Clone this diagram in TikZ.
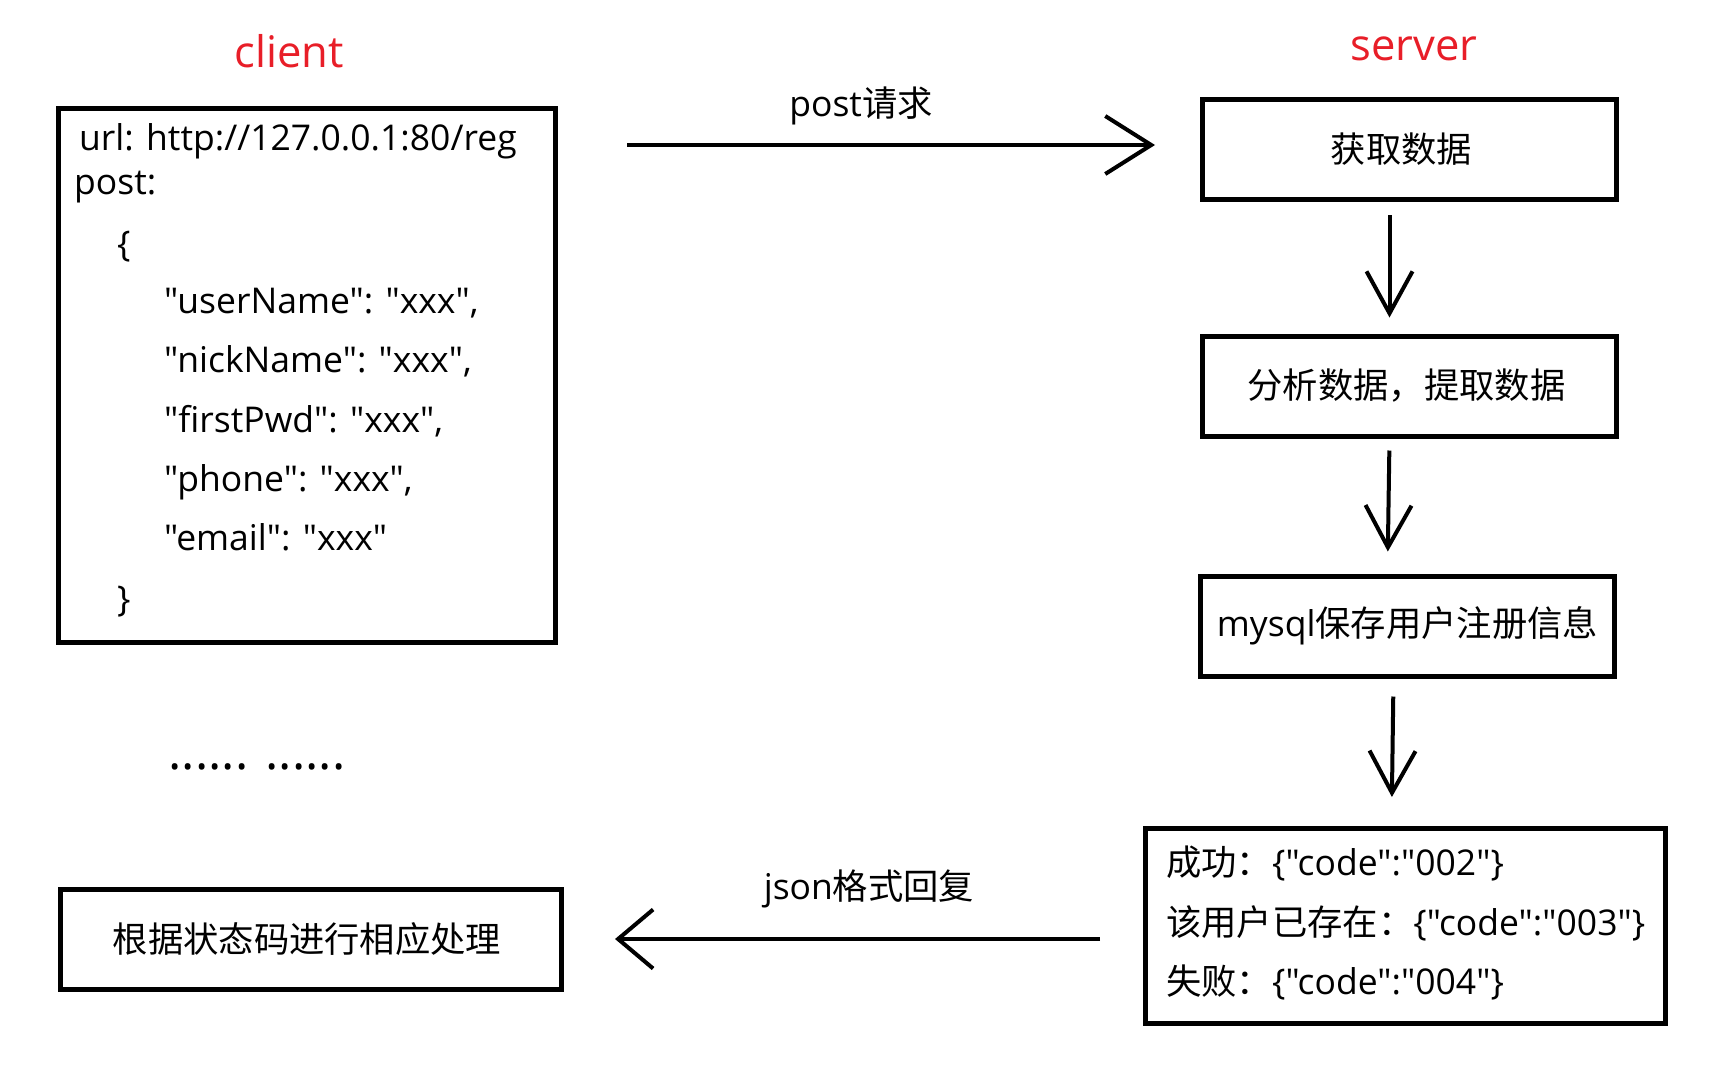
\documentclass[tikz,border=0pt]{standalone}
\usepackage{fontspec}
\setmainfont{Open Sans}[Ligatures=TeXOff]
\newfontfamily\cjk{Noto Sans CJK SC}[Scale=0.995]
\usetikzlibrary{arrows.meta}
\definecolor{labelred}{RGB}{232,30,40}

\tikzset{
	box/.style={draw, line width=5pt, minimum width=#1, minimum height=100pt, inner sep=0pt, font=\fontsize{35.5}{36}\selectfont},
	line/.style={anchor=west, font=\fontsize{35.5}{36}\selectfont, text height=0.75em, text depth=0.25em, inner sep=0pt},
	flow/.style={line width=4pt, -{Straight Barb[length=42pt,width=46pt]}},
	side/.style={font=\fontsize{43.5}{44}\selectfont, text=labelred}
}

\begin{document}
\begin{tikzpicture}[x=1pt,y=-1pt]
	\useasboundingbox (0,0) rectangle (1712,1080);
	% headings
	\node[side] (clientlbl) at (289,51) {client};
	\node[side] (serverlbl) at (1414,49) {server};
	% client side
	\node[box=497pt, minimum height=534pt] (reqbox) at (307,375.5) {};
	\node[line] (urlline) at (79,148) {url: http://127.0.0.1:80/reg};
	\node[line] (postline) at (74,192) {post:};
	\node[line] (openbr) at (117,254) {\{};
	\foreach \y/\txt in {
		311/{"userName": "xxx",},
		370/{"nickName": "xxx",},
		430/{"firstPwd": "xxx",},
		489/{"phone": "xxx",},
		548/{"email": "xxx"}
	}
	{
		\node[line] at (164,\y) {\txt};
	}
	\node[line] (closebr) at (117,609) {\}};
	\node[anchor=base, font=\fontsize{50}{50}\selectfont] (dots) at (257,769) {...... ......};
	\node[box=501pt] (handlebox) at (311,939) {\hspace*{-8pt}\cjk 根据状态码进行相应处理};
	% server side
	\node[box=414pt] (getbox) at (1409.5,149.5) {\hspace*{-16pt}\cjk 获取数据};
	\node[box=414pt] (parsebox) at (1409.5,386) {\hspace*{-6pt}\cjk 分析数据，提取数据};
	\node[box=414pt] (savebox) at (1407.5,626) {mysql{\cjk 保存用户注册信息}};
	\node[box=520pt, minimum height=195pt] (resultbox) at (1405.5,926) {};
	\foreach \y/\txt in {
		873/{{\cjk 成功：}\{"code":"002"\}},
		933/{{\cjk 该用户已存在：}\{"code":"003"\}},
		992/{{\cjk 失败：}\{"code":"004"\}}
	}
	{
		\node[line] at (1166,\y) {\txt};
	}
	% connectors
	\coordinate (poststart) at (627,145);
	\draw[flow, -{Straight Barb[length=46pt,width=58pt]}, shorten >=45pt] (poststart) -- (poststart -| getbox.west);
	\node[font=\fontsize{35.5}{36}\selectfont] (postlbl) at (861,106) {post{\cjk 请求}};
	\draw[flow, shorten <=13pt, shorten >=16pt] ([xshift=-20pt]getbox.south) -- ([xshift=-20pt]parsebox.north);
	\draw[flow, shorten <=12pt, shorten >=22pt] ([xshift=-20pt]parsebox.south) -- ([xshift=-20pt]savebox.north);
	\draw[flow, shorten <=18pt, shorten >=29pt] ([xshift=-14pt]savebox.south) -- ([xshift=-14pt]resultbox.north);
	\draw[flow, -{Straight Barb[length=35pt,width=59pt]}, shorten <=43pt, shorten >=51pt] (resultbox.west |- handlebox) -- (handlebox.east);
	\node[font=\fontsize{35.5}{36}\selectfont] (jsonlbl) at (869,889) {json{\cjk 格式回复}};
\end{tikzpicture}
\end{document}
